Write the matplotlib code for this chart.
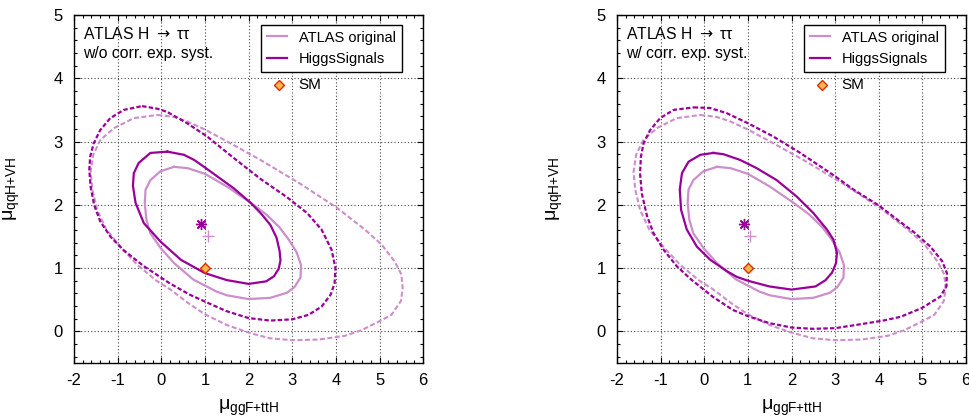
import numpy as np
import matplotlib.pyplot as plt
from matplotlib.lines import Line2D
from matplotlib.ticker import MultipleLocator

plt.rcParams['font.family'] = ['Liberation Sans', 'DejaVu Sans']
plt.rcParams['mathtext.fontset'] = 'custom'
plt.rcParams['mathtext.rm'] = 'Liberation Sans'
plt.rcParams['axes.unicode_minus'] = False

# ATLAS original contours (same in both panels)
atlas68_x = [0.29, 0.60, 1.00, 1.50, 2.05, 2.40, 2.70, 2.92, 3.10, 3.20, 3.19, 3.05, 2.88,
             2.50, 2.00, 1.50, 1.26, 0.73, 0.29, -0.02, -0.25, -0.34, -0.38, -0.36, -0.25, -0.02]
atlas68_y = [2.60, 2.58, 2.49, 2.29, 2.03, 1.85, 1.65, 1.45, 1.25, 1.05, 0.85, 0.70, 0.61,
             0.53, 0.51, 0.57, 0.63, 0.82, 1.08, 1.32, 1.55, 1.76, 2.03, 2.24, 2.39, 2.53]
atlas95_x = [-0.09, 0.28, 0.59, 1.00, 1.51, 2.27, 3.19, 4.03, 4.66, 5.05, 5.35, 5.50, 5.53,
             5.49, 5.27, 4.97, 4.59, 4.21, 3.60, 3.00, 2.49, 2.00, 1.50, 1.00, 0.65, 0.19,
             -0.11, -0.55, -0.94, -1.26, -1.47, -1.58, -1.62, -1.56, -1.40, -1.09, -0.63]
atlas95_y = [3.42, 3.39, 3.32, 3.19, 3.00, 2.71, 2.33, 1.95, 1.61, 1.37, 1.10, 0.90, 0.68,
             0.48, 0.26, 0.15, 0.02, -0.07, -0.13, -0.14, -0.11, -0.02, 0.10, 0.27, 0.43, 0.67,
             0.80, 1.05, 1.34, 1.61, 1.92, 2.24, 2.52, 2.79, 3.02, 3.21, 3.37]

# HiggsSignals, w/o correlated experimental systematics
hs68_wo_x = [0.14, 0.52, 0.75, 1.00, 1.28, 1.66, 2.05, 2.30, 2.50, 2.64, 2.71, 2.73, 2.69,
             2.58, 2.40, 2.00, 1.50, 1.00, 0.45, -0.02, -0.40, -0.59, -0.65, -0.63, -0.52, -0.25]
hs68_wo_y = [2.84, 2.79, 2.71, 2.59, 2.45, 2.26, 2.03, 1.85, 1.68, 1.48, 1.27, 1.12, 0.99,
             0.87, 0.79, 0.75, 0.81, 0.92, 1.13, 1.42, 1.71, 2.03, 2.30, 2.50, 2.66, 2.82]
hs95_wo_x = [-0.44, -0.10, 0.13, 0.59, 1.05, 1.66, 2.27, 2.88, 3.34, 3.67, 3.90, 3.99, 3.97,
             3.88, 3.67, 3.37, 3.00, 2.49, 2.00, 1.49, 1.00, 0.65, 0.19, -0.40, -0.86, -1.17,
             -1.40, -1.54, -1.62, -1.65, -1.63, -1.55, -1.40, -1.17, -0.86]
hs95_wo_y = [3.56, 3.52, 3.47, 3.29, 3.08, 2.74, 2.41, 2.12, 1.87, 1.61, 1.29, 1.00, 0.76,
             0.58, 0.39, 0.26, 0.19, 0.17, 0.21, 0.32, 0.47, 0.58, 0.76, 1.03, 1.28, 1.50,
             1.74, 2.00, 2.29, 2.55, 2.76, 2.97, 3.18, 3.37, 3.50]

# HiggsSignals, w/ correlated experimental systematics
hs68_w_x = [0.21, 0.44, 0.82, 1.20, 1.66, 2.12, 2.50, 2.81, 2.96, 3.04, 3.02, 2.93, 2.78,
            2.55, 2.00, 1.49, 1.00, 0.75, 0.52, 0.14, -0.17, -0.40, -0.53, -0.56, -0.51, -0.36, -0.09]
hs68_w_y = [2.82, 2.80, 2.71, 2.58, 2.39, 2.13, 1.87, 1.61, 1.45, 1.24, 1.08, 0.93, 0.81,
            0.71, 0.66, 0.71, 0.80, 0.86, 0.95, 1.13, 1.34, 1.61, 1.92, 2.24, 2.50, 2.68, 2.79]
hs95_w_x = [-0.24, 0.13, 0.51, 1.00, 1.58, 2.20, 3.00, 3.42, 4.00, 4.49, 4.80, 5.18, 5.45,
            5.56, 5.55, 5.41, 4.99, 4.50, 4.10, 3.56, 3.00, 2.49, 2.00, 1.49, 1.00, 0.65,
            0.19, -0.30, -0.63, -0.93, -1.16, -1.31, -1.43, -1.47, -1.45, -1.39, -1.24, -1.01, -0.70]
hs95_w_y = [3.54, 3.53, 3.45, 3.29, 3.08, 2.82, 2.45, 2.24, 1.99, 1.73, 1.57, 1.34, 1.11,
            0.92, 0.71, 0.55, 0.37, 0.23, 0.17, 0.11, 0.05, 0.04, 0.06, 0.13, 0.24, 0.34,
            0.55, 0.82, 1.03, 1.29, 1.55, 1.82, 2.18, 2.50, 2.76, 2.97, 3.18, 3.37, 3.50]

hs_best = (0.90, 1.70)
atlas_best = (1.06, 1.50)
sm_point = (1.0, 1.0)
sm_legend = (2.70, 3.89)

notes = ['ATLAS H $\\rightarrow$ \u03c4\u03c4\nw/o corr. exp. syst.',
         'ATLAS H $\\rightarrow$ \u03c4\u03c4\nw/ corr. exp. syst.']

dark = '#990099'
light = '#cc8fcc'


def closed(x, y):
    return np.append(x, x[0]), np.append(y, y[0])


def draw_panel(ax, hs68, hs95, note):
    ax.set_xlim(-2, 6)
    ax.set_ylim(-0.5, 5)
    ax.xaxis.set_major_locator(MultipleLocator(1))
    ax.yaxis.set_major_locator(MultipleLocator(1))
    ax.xaxis.set_minor_locator(MultipleLocator(0.2))
    ax.yaxis.set_minor_locator(MultipleLocator(0.2))
    ax.tick_params(which='both', direction='in', top=True, right=True, width=0.8)
    ax.tick_params(which='major', length=4.5, labelsize=12)
    ax.tick_params(axis='x', which='major', pad=7)
    ax.tick_params(axis='y', which='major', pad=8)
    ax.tick_params(which='minor', length=2.2)
    ax.grid(True, which='major', color='#444444', lw=0.8, ls=(0, (1, 2)))
    for s in ax.spines.values():
        s.set_linewidth(1.0)

    ax.plot(*closed(atlas95_x, atlas95_y), color=light, lw=1.5, dashes=(2.4, 1.2))
    ax.plot(*closed(atlas68_x, atlas68_y), color=light, lw=1.6)
    ax.plot(*closed(*hs95), color=dark, lw=1.6, dashes=(2, 1))
    ax.plot(*closed(*hs68), color=dark, lw=1.6)

    ax.plot(*hs_best, marker=(8, 2, 0), ms=8, mew=1.0, color=dark, ls='none')
    ax.plot(*atlas_best, marker='+', ms=8, mew=1.0, color=light, ls='none')
    for p in (sm_point, sm_legend):
        ax.plot(*p, marker='D', ms=5.5, mfc='#f7b84b', mec='#e02a00', mew=1.0, ls='none',
                zorder=5)
    ax.text(sm_legend[0] + 0.45, sm_legend[1], 'SM', fontsize=11, va='center', ha='left')

    ax.text(-1.8, 4.55, note, fontsize=11.3, va='center', ha='left', linespacing=1.3,
            math_fontfamily='dejavusans')

    handles = [Line2D([], [], color=light, lw=1.6), Line2D([], [], color=dark, lw=1.6)]
    leg = ax.legend(handles, ['ATLAS original', 'HiggsSignals'], loc='upper left',
                    bbox_to_anchor=(0.536, 0.972), fontsize=10.5, frameon=True,
                    fancybox=False, edgecolor='black', framealpha=1,
                    borderaxespad=0, handlelength=1.4, handletextpad=0.8,
                    borderpad=0.4, labelspacing=0.5)
    leg.get_frame().set_linewidth(1.0)

    ax.set_xlabel('\u03bc$_{\\text{ggF+ttH}}$', fontsize=14)
    ax.set_ylabel('\u03bc$_{\\text{qqH+VH}}$', fontsize=14)
    ax.xaxis.set_label_coords(0.5, -0.1)
    ax.yaxis.set_label_coords(-0.148, 0.5)


fig = plt.figure(figsize=(9.7, 4.19), dpi=100)
ax1 = fig.add_axes([0.0763, 0.1337, 0.36, 0.8305])
ax2 = fig.add_axes([0.636, 0.1337, 0.36, 0.8305])

draw_panel(ax1, (hs68_wo_x, hs68_wo_y), (hs95_wo_x, hs95_wo_y), notes[0])
draw_panel(ax2, (hs68_w_x, hs68_w_y), (hs95_w_x, hs95_w_y), notes[1])

fig.savefig('out.png', dpi=100)
